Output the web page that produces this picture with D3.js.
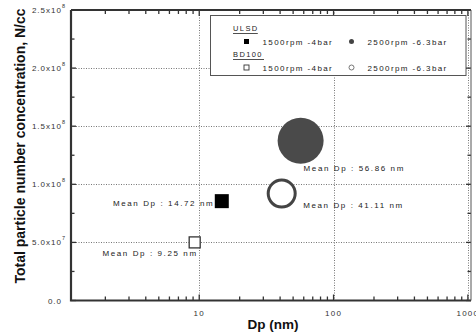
<!DOCTYPE html>
<html>
<head>
<meta charset="utf-8">
<script src="https://cdn.jsdelivr.net/npm/d3@7"></script>
<style>
  html, body { margin: 0; padding: 0; background: #fff; }
  svg { display: block; }
  text { font-family: "Liberation Sans", Arial, sans-serif; }
</style>
</head>
<body>
<svg id="chart" width="476" height="335"></svg>
<script>
// Particle number concentration vs. mean diameter
const fuels      = ["ULSD", "ULSD", "BD100", "BD100"];
const conditions = ["1500rpm -4bar", "2500rpm -6.3bar", "1500rpm -4bar", "2500rpm -6.3bar"];
const meanDp     = [14.72, 56.86, 9.25, 41.11];           // nm
const totalConc  = [8.55e7, 1.375e8, 5.0e7, 9.2e7];        // N/cc
const yTickValues = [0, 5e7, 1e8, 1.5e8, 2e8, 2.5e8];
const yTickMant   = ["0.0", "5.0x10", "1.0x10", "1.5x10", "2.0x10", "2.5x10"];
const yTickExp    = ["", "7", "8", "8", "8", "8"];
const xTickValues = [10, 100, 1000];

// marker look per series
const markerShape = ["square", "circle", "square", "circle"];
const markerFill  = ["#000", "#4a4a4a", "#fff", "#fff"];
const markerSize  = [14, 46, 11, 30];
// label placement relative to each marker (dx, dy, anchor)
const labelDx     = [-7.5, 3, 3, 21.5];
const labelDy     = [5, 30, 13.5, 14.5];
const labelAnchor = ["end", "start", "end", "start"];

const svg = d3.select("#chart");
const pLeft = 71, pRight = 471, pTop = 10, pBottom = 300.5;

const x = d3.scaleLog().domain([1.11, 1055]).range([pLeft, pRight]);
const y = d3.scaleLinear().domain([0, 2.5e8]).range([pBottom, pTop]);

// dotted grid
const grid = svg.append("g").attr("stroke", "#777").attr("stroke-width", 1)
  .attr("stroke-dasharray", "1,1.5");
grid.selectAll("line.h").data(yTickValues.filter(v => v > 0 && v < 2.5e8)).enter()
  .append("line").attr("x1", pLeft).attr("x2", pRight)
  .attr("y1", d => Math.round(y(d)) + 0.5).attr("y2", d => Math.round(y(d)) + 0.5);
grid.selectAll("line.v").data(xTickValues).enter()
  .append("line").attr("y1", pTop).attr("y2", pBottom)
  .attr("x1", d => Math.round(x(d)) + 0.5).attr("x2", d => Math.round(x(d)) + 0.5);

// minor/major ticks (inward, mirrored on all sides)
const xMinor = [];
[1, 10, 100].forEach(dec => { for (let k = 2; k <= 9; k++) xMinor.push(dec * k); });
const yMinor = [2.5e7, 7.5e7, 1.25e8, 1.75e8, 2.25e8];
const ticks = svg.append("g").attr("stroke", "#333").attr("stroke-width", 1.3);
xMinor.filter(v => x(v) >= pLeft).forEach(v => {
  ticks.append("line").attr("x1", x(v)).attr("x2", x(v)).attr("y1", pBottom).attr("y2", pBottom - 4);
  ticks.append("line").attr("x1", x(v)).attr("x2", x(v)).attr("y1", pTop).attr("y2", pTop + 4);
});
xTickValues.forEach(v => {
  ticks.append("line").attr("x1", x(v)).attr("x2", x(v)).attr("y1", pBottom).attr("y2", pBottom - 6);
  ticks.append("line").attr("x1", x(v)).attr("x2", x(v)).attr("y1", pTop).attr("y2", pTop + 6);
});
yMinor.forEach(v => {
  ticks.append("line").attr("x1", pLeft).attr("x2", pLeft + 3.5).attr("y1", y(v)).attr("y2", y(v));
  ticks.append("line").attr("x1", pRight).attr("x2", pRight - 3.5).attr("y1", y(v)).attr("y2", y(v));
});
yTickValues.forEach(v => {
  ticks.append("line").attr("x1", pLeft).attr("x2", pLeft + 5).attr("y1", y(v)).attr("y2", y(v));
  ticks.append("line").attr("x1", pRight).attr("x2", pRight - 5).attr("y1", y(v)).attr("y2", y(v));
});

// frame
svg.append("path")
  .attr("d", `M${pLeft},${pTop}H${pRight}`).attr("stroke", "#333").attr("stroke-width", 2);
svg.append("path")
  .attr("d", `M${pLeft},${pTop}V${pBottom}H${pRight}`).attr("fill", "none")
  .attr("stroke", "#333").attr("stroke-width", 2.2);
svg.append("path")
  .attr("d", `M${pRight},${pTop}V${pBottom}`).attr("stroke", "#555").attr("stroke-width", 1);

// y tick labels
const ytl = svg.append("g").attr("fill", "#333").attr("font-size", 8).attr("letter-spacing", 1);
yTickValues.forEach((v, i) => {
  const t = ytl.append("text").attr("x", yTickExp[i] ? 66 : 62).attr("y", y(v) + 3).attr("text-anchor", "end");
  t.append("tspan").text(yTickMant[i]);
  if (yTickExp[i]) {
    t.append("tspan").attr("font-size", 5.5).attr("dy", -5).text(yTickExp[i]);
  }
});
// x tick labels
svg.append("g").attr("fill", "#333").attr("font-size", 8).attr("letter-spacing", 1.2)
  .selectAll("text").data(xTickValues).enter().append("text")
  .attr("x", d => x(d)).attr("y", 316).attr("text-anchor", "middle").text(d => d);

// axis titles
svg.append("text").attr("x", 273).attr("y", 329).attr("text-anchor", "middle")
  .attr("font-size", 13.5).attr("font-weight", "bold").attr("fill", "#111").text("Dp (nm)");
svg.append("text")
  .attr("transform", "translate(25,146) rotate(-90)")
  .attr("text-anchor", "middle").attr("font-size", 14).attr("font-weight", "bold")
  .attr("fill", "#111").text("Total particle number concentration, N/cc");

// markers
const marks = svg.append("g");
meanDp.forEach((d, i) => {
  const cx = x(d), cy = y(totalConc[i]);
  const open = markerFill[i] === "#fff";
  if (markerShape[i] === "square") {
    const s = markerSize[i];
    marks.append("rect").attr("x", cx - s / 2).attr("y", cy - s / 2).attr("width", s).attr("height", s)
      .attr("fill", markerFill[i]).attr("stroke", open ? "#333" : "none").attr("stroke-width", 1.3);
  } else {
    const r = markerSize[i] / 2;
    marks.append("circle").attr("cx", cx).attr("cy", cy).attr("r", open ? r - 1.5 : r)
      .attr("fill", markerFill[i]).attr("stroke", open ? "#444" : "none").attr("stroke-width", 3);
  }
  marks.append("text").attr("x", cx + labelDx[i]).attr("y", cy + labelDy[i])
    .attr("text-anchor", labelAnchor[i]).attr("font-size", 8).attr("letter-spacing", 1.6)
    .attr("fill", "#222").text(`Mean Dp : ${d.toFixed(2)} nm`);
});

// legend
const lg = svg.append("g");
lg.append("rect").attr("x", 210.5).attr("y", 15.5).attr("width", 255.5).attr("height", 60)
  .attr("fill", "#fff").attr("stroke", "#555").attr("stroke-width", 1);
const groups = Array.from(new Set(fuels));
const legCol = [246.5, 351.5];
groups.forEach((g, gi) => {
  const hy = 31 + gi * 26;
  lg.append("text").attr("x", 233).attr("y", hy).attr("font-size", 7.5)
    .attr("letter-spacing", 1.4).attr("fill", "#222").text(g);
  lg.append("line").attr("x1", 233).attr("x2", 233 + g.length * 6.2).attr("y1", hy + 2.5).attr("y2", hy + 2.5)
    .attr("stroke", "#222").attr("stroke-width", 0.8);
  const ry = hy + 10.5;
  fuels.forEach((f, i) => {
    if (f !== g) return;
    const col = legCol[markerShape[i] === "square" ? 0 : 1];
    const open = markerFill[i] === "#fff";
    if (markerShape[i] === "square") {
      lg.append("rect").attr("x", col - 2.5).attr("y", ry - 2.5).attr("width", 5).attr("height", 5)
        .attr("fill", open ? "#fff" : "#000").attr("stroke", open ? "#333" : "none").attr("stroke-width", 0.9);
    } else {
      lg.append("circle").attr("cx", col).attr("cy", ry).attr("r", 2.5)
        .attr("fill", open ? "#fff" : "#444").attr("stroke", open ? "#555" : "none").attr("stroke-width", 0.8);
    }
    lg.append("text").attr("x", col + 16).attr("y", ry + 3).attr("font-size", 8)
      .attr("letter-spacing", 1.4).attr("fill", "#222").text(conditions[i]);
  });
});
</script>
</body>
</html>
